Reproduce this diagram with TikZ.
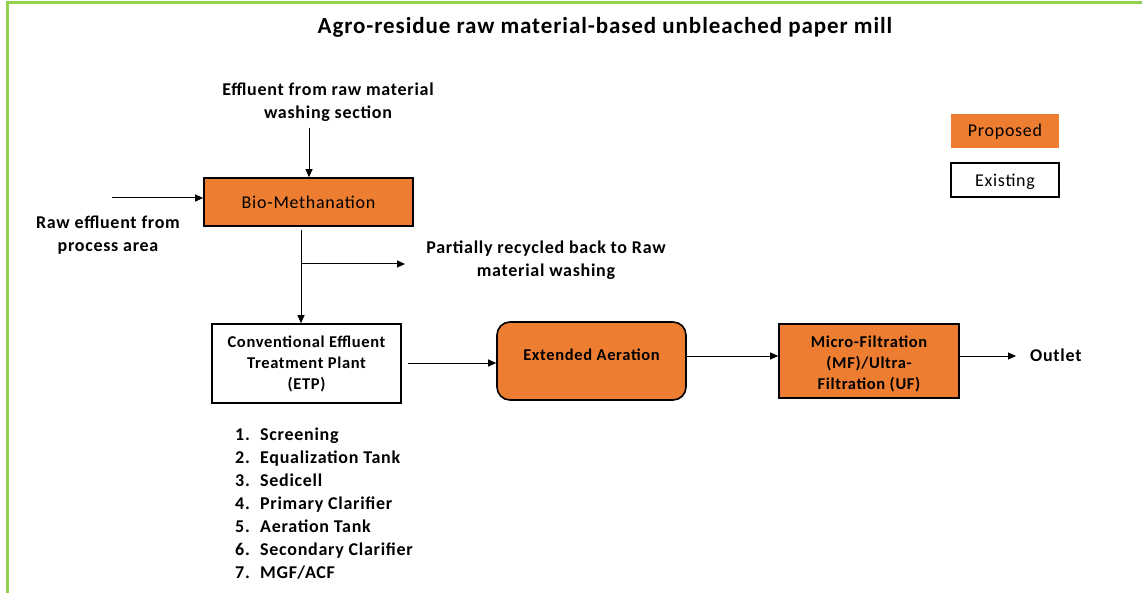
\documentclass[tikz,border=0pt]{standalone}
\usepackage{fontspec}
\setmainfont{Carlito}[LetterSpace=4]
\usetikzlibrary{arrows.meta}
\definecolor{propfill}{HTML}{ED7D31}
\definecolor{frame}{HTML}{92D050}
\tikzset{
  flow/.style={-{Triangle[length=8pt,width=7pt]}, line width=1pt},
  label/.style={font=\fontsize{18}{23}\selectfont\bfseries, align=center, inner sep=0pt},
  boxfont/.style={font=\fontsize{16.5}{21}\selectfont\bfseries},
  proposed/.style={draw=black, line width=1.6pt, fill=propfill, align=center, inner sep=0pt},
  existing/.style={draw=black, line width=1.6pt, fill=white, align=center, inner sep=0pt},
  legend/.style={minimum width=108pt, minimum height=34pt, inner sep=0pt, font=\fontsize{18}{21}\selectfont},
}
\begin{document}
\begin{tikzpicture}[x=1pt,y=-1pt]
\useasboundingbox (0,0) rectangle (1142,593);
% outer frame
\draw[frame, line width=3pt] (1145,3) -- (7,3) -- (7,596);

% title
\node[font=\fontsize{23}{26}\selectfont\bfseries] (title) at (605,27) {Agro-residue raw material-based unbleached paper mill};

% process boxes
\node[proposed, minimum width=209pt, minimum height=48pt, font=\fontsize{18}{21}\selectfont] (bio) at (308.5,202) {Bio-Methanation};
\node[existing, boxfont, minimum width=189pt, minimum height=79pt] (etp) at (306.5,363.5) {Conventional Effluent\\Treatment Plant\\(ETP)};
\node[proposed, rounded corners=13pt, minimum width=189pt, minimum height=78pt] (ea) at (591.5,361) {};
\node[boxfont, inner sep=0pt] (eatext) at (591.5,355) {Extended Aeration};
\node[proposed, minimum width=180pt, minimum height=74pt] (mf) at (869,361) {};
\node[boxfont, align=center, inner sep=0pt] (mftext) at (869,363.5) {Micro-Filtration\\(MF)/Ultra-\\Filtration (UF)};

% free labels
\node[label] (wash) at (328,102.5) {Effluent from raw material\\washing section};
\node[label] (raw) at (108,235.5) {Raw effluent from\\process area};
\node[label] (recyc) at (546,260.5) {Partially recycled back to Raw\\material washing};
\node[label, anchor=west] (outlet) at (1030,355) {Outlet};

% connector end points
\coordinate (washend) at (309,128);
\coordinate (rawstart) at (112,198);
\coordinate (split) at (301,264);
\coordinate (recycend) at (405,264);
\coordinate (outend) at (1016,356);

\draw[flow] (washend) -- (bio.north -| washend);
\draw[flow] (rawstart) -- (bio.west |- rawstart);
\draw[line width=1pt] (bio.south -| split) ++(0,3) -- (split);
\draw[flow] (split) -- (etp.north -| split);
\draw[flow] (split) -- (recycend);
\draw[flow] ([xshift=6pt]etp.east |- 0,363) -- (ea.west |- 0,363);
\draw[flow] (ea.east |- 0,356) -- (mf.west |- 0,356);
\draw[flow] (mf.east |- outend) -- (outend);

% treatment steps of the existing plant
\foreach \n/\t [count=\i from 0] in {1/Screening,2/Equalization Tank,3/Sedicell,4/Primary Clarifier,5/Aeration Tank,6/Secondary Clarifier,7/{MGF/ACF}}{
  \node[label, anchor=base west] (num\n) at (235,440+23*\i) {\n.};
  \node[label, anchor=base west] (item\n) at (260,440+23*\i) {\t};
}

% legend
\node[legend, fill=propfill] (legprop) at (1005,131.5) {Proposed};
\node[legend, draw=black, line width=1.6pt] (legexist) at (1005,180) {};
\node[font=\fontsize{18}{21}\selectfont, inner sep=0pt] (legexisttext) at (1005,182) {Existing};
\end{tikzpicture}
\end{document}
